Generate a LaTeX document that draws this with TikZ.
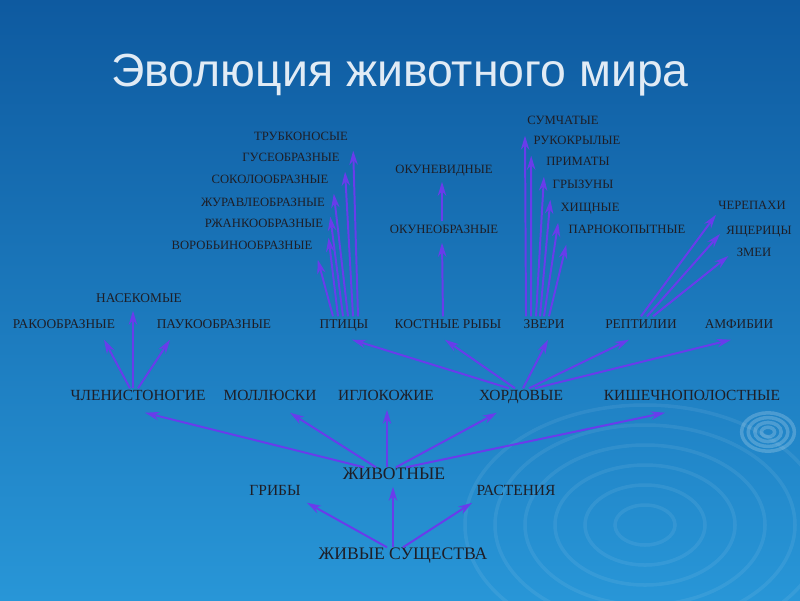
\documentclass[tikz,border=0pt]{standalone}
\usepackage{fontspec}
\setmainfont{Liberation Serif}
\newfontfamily\titlefont{Liberation Sans}
\usetikzlibrary{arrows.meta,calc}

\definecolor{bgtop}{RGB}{14,90,160}
\definecolor{bgbot}{RGB}{40,150,215}
\definecolor{arrcol}{RGB}{105,60,235}
\definecolor{labcol}{RGB}{30,30,38}
\definecolor{titlecol}{RGB}{225,235,245}

\tikzset{
  heading/.style={text=titlecol, font=\titlefont\fontsize{33}{38}\selectfont},
  taxon/.style={text=labcol, inner sep=1.5pt, text height=0.7em, text depth=0.2em,
    font=\fontsize{11}{12}\selectfont},
  taxbig/.style={taxon, font=\fontsize{12.5}{14}\selectfont},
  taxmid/.style={taxon, font=\fontsize{9.5}{11}\selectfont},
  taxsm/.style={taxon, font=\fontsize{9}{10}\selectfont},
  arr/.style={draw=arrcol, line width=1.4pt, -{Stealth[length=10pt,width=6pt]}},
  ripple/.style={draw=white, opacity=0.07, line width=2.5pt}
}

\begin{document}
\begin{tikzpicture}[x=0.025cm, y=-0.025cm]
\useasboundingbox (0,0) rectangle (800,600);
% background
\shade[top color=bgtop, bottom color=bgbot] (0,0) rectangle (800,600);
\begin{scope}
\clip (0,0) rectangle (800,600);
\foreach \r in {25,50,75,100,125,150}
  \draw[ripple] (645,525) ellipse ({\r*1.2} and {\r*0.8});
\foreach \r in {6,12,18,24}
  \draw[ripple, opacity=0.2] (768,432) ellipse ({\r*1.1} and {\r*0.8});
\end{scope}

\node[heading] (title) at (400,75) {Эволюция животного мира};

% roots
\node[taxbig] (zs) at (403,556) {ЖИВЫЕ СУЩЕСТВА};
\node[taxbig] (zhiv) at (394,476) {ЖИВОТНЫЕ};
\node[taxon] (griby) at (275,492) {ГРИБЫ};
\node[taxon] (rast) at (516,492) {РАСТЕНИЯ};

% types
\node[taxon] (chlen) at (138,397) {ЧЛЕНИСТОНОГИЕ};
\node[taxon] (moll) at (270,397) {МОЛЛЮСКИ};
\node[taxon] (igl) at (386,397) {ИГЛОКОЖИЕ};
\node[taxon] (hord) at (521,397) {ХОРДОВЫЕ};
\node[taxon] (kish) at (692,397) {КИШЕЧНОПОЛОСТНЫЕ};

% classes
\node[taxmid] (rako) at (64,325) {РАКООБРАЗНЫЕ};
\node[taxmid] (nasek) at (139,299) {НАСЕКОМЫЕ};
\node[taxmid] (pauk) at (214,325) {ПАУКООБРАЗНЫЕ};
\node[taxmid] (ptitsy) at (344,325) {ПТИЦЫ};
\node[taxmid] (kost) at (448,325) {КОСТНЫЕ РЫБЫ};
\node[taxmid] (zveri) at (544,325) {ЗВЕРИ};
\node[taxmid] (rept) at (641,325) {РЕПТИЛИИ};
\node[taxmid] (amf) at (739,325) {АМФИБИИ};

% orders of birds
\node[taxsm] (trubk) at (301,137) {ТРУБКОНОСЫЕ};
\node[taxsm] (gus) at (291,158) {ГУСЕОБРАЗНЫЕ};
\node[taxsm] (sokol) at (270,180) {СОКОЛООБРАЗНЫЕ};
\node[taxsm] (zhur) at (263,203) {ЖУРАВЛЕОБРАЗНЫЕ};
\node[taxsm] (rzh) at (264,224) {РЖАНКООБРАЗНЫЕ};
\node[taxsm] (vorob) at (242,246) {ВОРОБЬИНООБРАЗНЫЕ};

% fish
\node[taxsm] (okob) at (444,230) {ОКУНЕОБРАЗНЫЕ};
\node[taxsm] (okvid) at (444,170) {ОКУНЕВИДНЫЕ};

% mammals
\node[taxsm] (sumch) at (563,121) {СУМЧАТЫЕ};
\node[taxsm] (ruk) at (577,141) {РУКОКРЫЛЫЕ};
\node[taxsm] (prim) at (578,162) {ПРИМАТЫ};
\node[taxsm] (gryz) at (583,185) {ГРЫЗУНЫ};
\node[taxsm] (hisch) at (590,208) {ХИЩНЫЕ};
\node[taxsm] (parn) at (627,230) {ПАРНОКОПЫТНЫЕ};

% reptiles
\node[taxsm] (cher) at (752,206) {ЧЕРЕПАХИ};
\node[taxsm] (yasch) at (759,231) {ЯЩЕРИЦЫ};
\node[taxsm] (zmei) at (754,253) {ЗМЕИ};

% arrows
\draw[arr] ($(zs.north)+(-10,0)$) -- ($(zhiv.south)+(-1,2)$);
\draw[arr] ($(zs.north)+(-16,0)$) -- ($(griby.south east)+(4,2)$);
\draw[arr] (zs.north) -- ($(rast.south west)+(-2,2)$);

\draw[arr] ($(zhiv.north)+(-30,0)$) -- ($(chlen.south)+(7,7)$);
\draw[arr] ($(zhiv.north)+(-18,0)$) -- ($(moll.south)+(20,7)$);
\draw[arr] ($(zhiv.north)+(-7,0)$) -- ($(igl.south)+(1,4)$);
\draw[arr] ($(zhiv.north)+(2,0)$) -- ($(hord.south)+(-24,7)$);
\draw[arr] ($(zhiv.north)+(12,0)$) -- ($(kish.south)+(-27,7)$);

\draw[arr] ($(chlen.north)+(-8,0)$) -- ($(rako.south)+(40,6)$);
\draw[arr] ($(chlen.north)+(-5,0)$) -- ($(nasek.south)+(-6,3)$);
\draw[arr] (chlen.north) -- ($(pauk.south)+(-44,6)$);

\draw[arr] ($(hord.north)+(-12,0)$) -- ($(ptitsy.south)+(8,6)$);
\draw[arr] ($(hord.north)+(-6,0)$) -- ($(kost.south)+(-3,6)$);
\draw[arr] ($(hord.north)+(2,0)$) -- ($(zveri.south)+(4,6)$);
\draw[arr] ($(hord.north)+(8,0)$) -- ($(rept.south)+(-12,6)$);
\draw[arr] ($(hord.north)+(14,0)$) -- ($(amf.south)+(-8,6)$);

\draw[arr] ($(ptitsy.north)+(14,0)$) -- ($(trubk.south east)+(3,5)$);
\draw[arr] ($(ptitsy.north)+(9,0)$) -- ($(gus.south east)+(3,5)$);
\draw[arr] ($(ptitsy.north)+(4,0)$) -- ($(sokol.south east)+(3,5)$);
\draw[arr] ($(ptitsy.north)+(-1,0)$) -- ($(zhur.south east)+(3,5)$);
\draw[arr] ($(ptitsy.north)+(-6,0)$) -- ($(rzh.south east)+(3,5)$);
\draw[arr] ($(ptitsy.north)+(-11,0)$) -- ($(vorob.south east)+(3,5)$);

\draw[arr] ($(kost.north)+(-5,0)$) -- ($(okob.south)+(-2,4)$);
\draw[arr] ($(okob.north)+(-2,0)$) -- ($(okvid.south)+(-2,3)$);

\draw[arr] ($(zveri.north)+(-18,0)$) -- ($(sumch.south west)+(0,6)$);
\draw[arr] ($(zveri.north)+(-13,0)$) -- ($(ruk.south west)+(0,6)$);
\draw[arr] ($(zveri.north)+(-8,0)$) -- ($(prim.south west)+(0,6)$);
\draw[arr] ($(zveri.north)+(-4,0)$) -- ($(gryz.south west)+(0,6)$);
\draw[arr] (zveri.north) -- ($(hisch.south west)+(0,6)$);
\draw[arr] ($(zveri.north)+(5,0)$) -- ($(parn.south west)+(0,6)$);

\draw[arr] (rept.north) -- (cher.south west);
\draw[arr] ($(rept.north)+(6,0)$) -- ($(yasch.west)+(-4,3)$);
\draw[arr] ($(rept.north)+(12,0)$) -- ($(zmei.west)+(-6,3)$);
\end{tikzpicture}
\end{document}
